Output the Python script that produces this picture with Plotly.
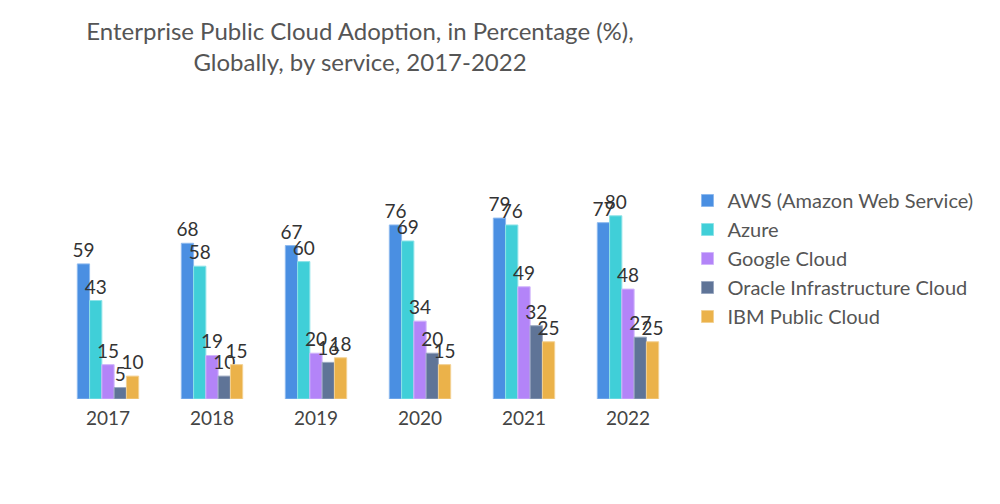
import plotly.graph_objects as go

years = ["2017", "2018", "2019", "2020", "2021", "2022"]
series_names = ["AWS (Amazon Web Service)", "Azure", "Google Cloud",
                "Oracle Infrastructure Cloud", "IBM Public Cloud"]
aws = [59, 68, 67, 76, 79, 77]
azure = [43, 58, 60, 69, 76, 80]
google = [15, 19, 20, 34, 49, 48]
oracle = [5, 10, 16, 20, 32, 27]
ibm = [10, 15, 18, 15, 25, 25]
colors = ["#4A8FE2", "#40CFD8", "#B384F8", "#5F7497", "#EBB24A"]
borders = ["#8DB9EE", "#8DE3E8", "#D1B5FB", "#9AA8C0", "#F3D193"]

fig = go.Figure()
for name, vals, c, b in zip(series_names, [aws, azure, google, oracle, ibm], colors, borders):
    fig.add_trace(go.Bar(
        x=years, y=vals, name=name,
        marker=dict(color=c, line=dict(color=b, width=1)),
        text=[str(v) for v in vals], textposition="outside",
        constraintext="none",
        textfont=dict(family="Lato", size=19, color="#333333"),
        cliponaxis=False,
    ))

fig.update_layout(
    width=1000, height=504,
    paper_bgcolor="white", plot_bgcolor="white",
    barmode="group", bargap=0.41, bargroupgap=0,
    margin=dict(l=48, r=328, t=162, b=113),
    title=dict(
        text="Enterprise Public Cloud Adoption, in Percentage (%),<br>Globally, by service, 2017-2022",
        x=0.352, xanchor="center", y=0.937, yanchor="top",
        font=dict(family="Lato", size=24, color="#555555"),
    ),
    xaxis=dict(showgrid=False, showline=False, ticks="", ticklabelstandoff=6,
               tickfont=dict(family="Lato", size=19, color="#444444")),
    yaxis=dict(visible=False, range=[0, 100]),
    legend=dict(x=1.012, y=0.952, xanchor="left", yanchor="top",
                font=dict(family="Lato", size=20, color="#555555"),
                itemwidth=30, tracegroupgap=4),
    showlegend=True,
)

fig.write_html("out.html")
